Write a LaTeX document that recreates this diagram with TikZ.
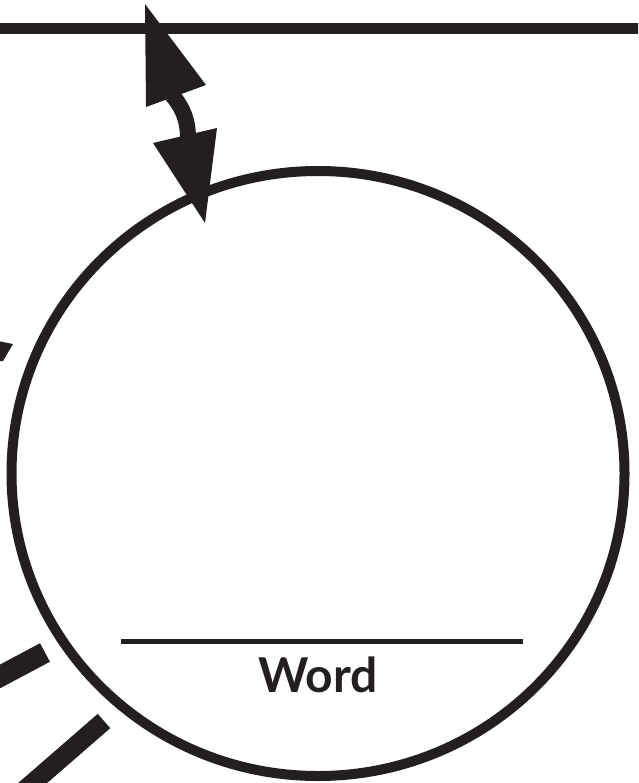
\documentclass[tikz,border=0pt]{standalone}
\usepackage{fontspec}
\usetikzlibrary{shapes.geometric}
\setmainfont{Lato}
\definecolor{ink}{RGB}{35,31,32}
\begin{document}
\begin{tikzpicture}[x=1pt,y=-1pt,
  inkline/.style={draw=ink,line cap=butt},
  inkfill/.style={fill=ink,draw=none}]
\useasboundingbox (0,0) rectangle (638,783);
\clip (0,0) rectangle (638,783);
% top line
\coordinate (tl) at (-5,28.5);
\coordinate (tr) at (645,28.5);
\draw[inkline,line width=10.5pt] (tl) -- (tr);
% circle
\node[draw=ink,line width=10pt,ellipse,minimum width=613pt,minimum height=605pt,inner sep=0pt] (circ) at (318,473.5) {};
% inner line
\coordinate (ll) at (121,641);
\coordinate (lr) at (523,641);
\draw[inkline,line width=5pt] (ll) -- (lr);
\node[text=ink,anchor=base,inner sep=0pt,font=\fontsize{48}{50}\selectfont\bfseries] (word) at (318,692) {Word};
% double arrow
\coordinate (a1) at (172,95);
\coordinate (a2) at (188,139);
\draw[inkline,line width=16pt] (a1) .. controls (183,108) and (188,120) .. (a2);
\fill[inkfill] (145,4) -- (146,107) -- (206,85) -- cycle;
\fill[inkfill] (153,143) -- (217,128) -- (205,223) -- cycle;
% left fragments
\fill[inkfill] (-2,341) -- (13,344) -- (3,361) -- (-2,361) -- cycle;
\coordinate (b1e) at (45,652.5);
\coordinate (b2e) at (104,721);
\draw[inkline,line width=21pt] (b1e) -- ++(152:110);
\draw[inkline,line width=19pt] (b2e) -- ++(139:110);
\end{tikzpicture}
\end{document}
